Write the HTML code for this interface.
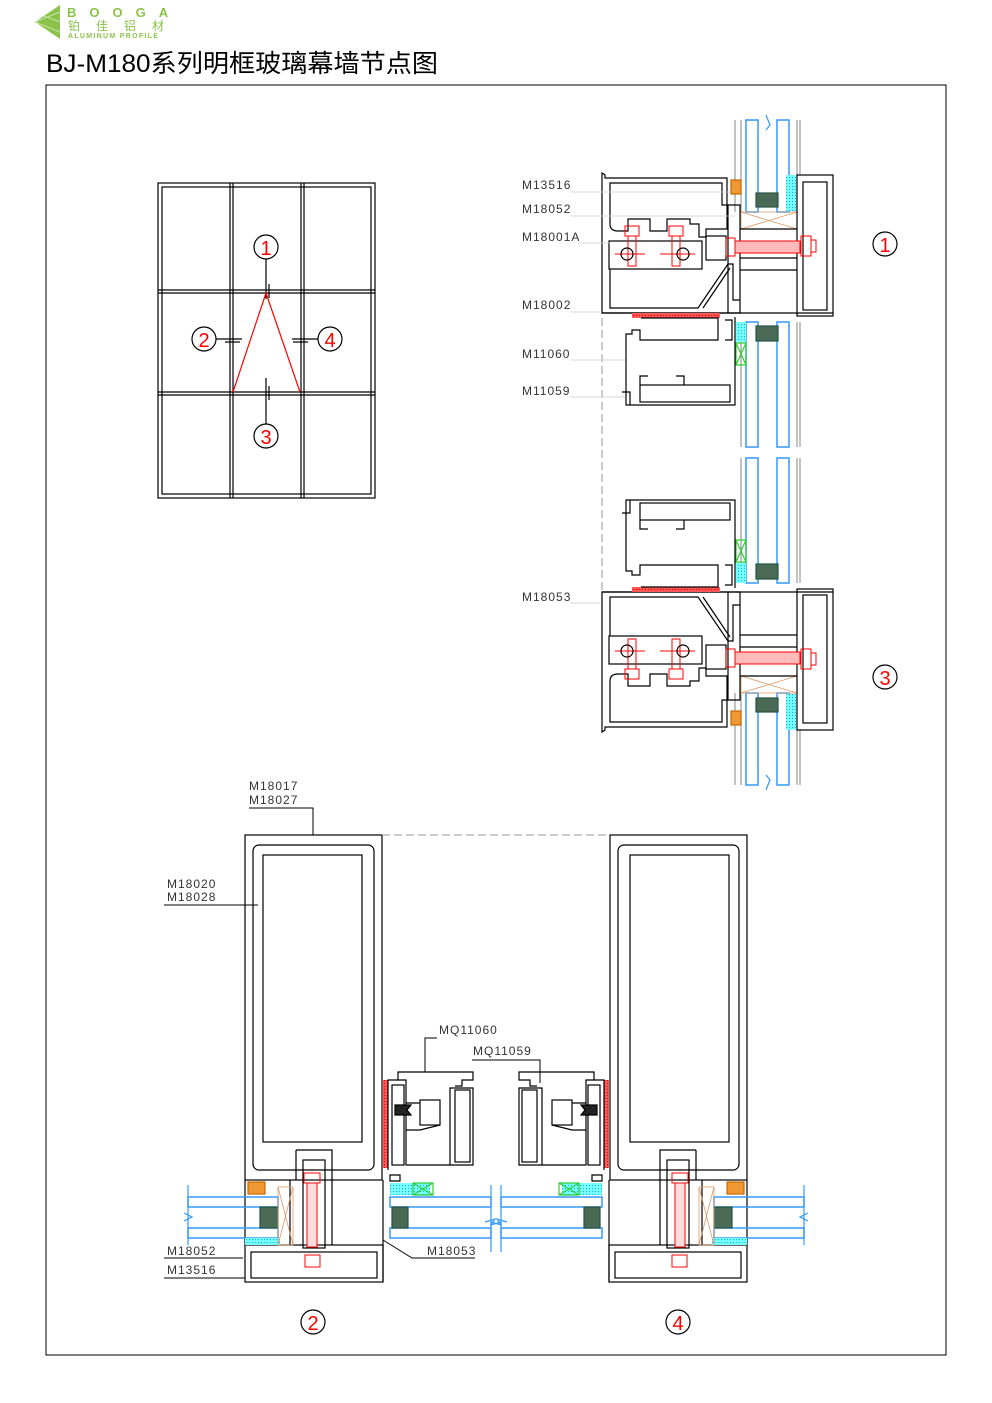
<!DOCTYPE html>
<html><head><meta charset="utf-8"><style>
html,body{margin:0;padding:0;background:#fff;width:992px;height:1403px;overflow:hidden}
svg{display:block}
text{font-family:"Liberation Sans","Noto Sans CJK SC",sans-serif}
.l{font-family:"Liberation Sans",sans-serif;font-size:12px;fill:#333;letter-spacing:1px}
</style></head><body>
<svg width="992" height="1403" viewBox="0 0 992 1403" xmlns="http://www.w3.org/2000/svg">
<defs>
<pattern id="cy" width="3" height="3" patternUnits="userSpaceOnUse"><rect width="3" height="3" fill="#7ff"/><rect width="1" height="1" fill="#0bd"/></pattern>
<pattern id="rd" width="3" height="3" patternUnits="userSpaceOnUse"><rect width="3" height="3" fill="#f55"/><rect width="1" height="1" fill="#c00"/></pattern>

<g id="sec1" fill="none" stroke="#000" stroke-width="1.2">
  <g stroke="#999"><line x1="735" y1="120" x2="735" y2="212"/><line x1="741" y1="120" x2="741" y2="212"/><line x1="797" y1="120" x2="797" y2="175"/><line x1="800" y1="120" x2="800" y2="175"/></g>
  <rect x="746" y="120" width="12" height="92" stroke="#39f" stroke-width="1.5"/>
  <rect x="777" y="120" width="12" height="92" stroke="#39f" stroke-width="1.5"/>
  <rect x="756" y="193" width="22" height="14" fill="#4a6a55" stroke="#254"/>
  <rect x="786" y="175" width="10" height="36" fill="url(#cy)" stroke="none"/>
  <path d="M741,212 L797,212 L797,229 L741,229 Z M741,212 L797,229 M797,212 L741,229" stroke="#d96" stroke-width="0.8"/>
  <path d="M766,115 L770,125 L766,130" stroke="#39f"/>
  <g stroke="#999"><line x1="741" y1="322" x2="741" y2="447"/><line x1="797" y1="322" x2="797" y2="447"/><line x1="800" y1="322" x2="800" y2="447"/></g>
  <rect x="746" y="322" width="12" height="125" stroke="#39f" stroke-width="1.5"/>
  <rect x="777" y="322" width="12" height="125" stroke="#39f" stroke-width="1.5"/>
  <rect x="756" y="326" width="22" height="15" fill="#4a6a55" stroke="#254"/>
  <rect x="736" y="322" width="10" height="20" fill="url(#cy)" stroke="none"/>
  <path d="M736,343 h10 v22 h-10 z M736,343 l10,22 M746,343 l-10,22" stroke="#3c3"/>
  <path d="M602,313 L602,173 L605,175 L605,178 L727,178 L727,205 L740,205 L740,313 Z"/>
  <path d="M610,183 L722,183 L722,205 L727,205 L727,229 L706,229 L706,237 L699,237 L699,224 L690,224 L690,219 L667,219 L667,231 L650,231 L650,219 L628,219 L628,231 L618,231 Q610,231 610,224 Z"/>
  <rect x="609" y="241" width="93" height="28"/>
  <rect x="706" y="236" width="20" height="24"/>
  <path d="M610,269 L610,308 L698,308 L728,264 L733,264 L733,300 L740,300"/>
  <path d="M703,308 L730,268"/>
  <line x1="728" y1="205" x2="728" y2="313"/>
  <line x1="740" y1="229" x2="797" y2="229"/>
  <line x1="740" y1="258" x2="797" y2="258"/>
  <line x1="740" y1="270" x2="797" y2="270"/>
  <line x1="602" y1="313" x2="833" y2="313"/>
  <rect x="797" y="175" width="36" height="141"/>
  <rect x="803" y="182" width="24" height="128"/>
  <g stroke="#f00" stroke-width="1">
    <rect x="726" y="238" width="9" height="18"/><rect x="735" y="241" width="65" height="12" fill="#fbb"/>
    <rect x="801" y="236" width="10" height="20"/><rect x="811" y="240" width="5" height="12"/>
    <rect x="625" y="226" width="14" height="10"/><rect x="628" y="236" width="8" height="30"/>
    <rect x="669" y="226" width="14" height="10"/><rect x="672" y="236" width="8" height="30"/>
    <line x1="615" y1="254" x2="645" y2="254"/><line x1="660" y1="254" x2="695" y2="254"/>
  </g>
  <circle cx="627" cy="254" r="6"/><circle cx="683" cy="254" r="6"/>
  <rect x="731" y="180" width="10" height="14" fill="#e93" stroke="#c60"/>
  <rect x="632" y="313" width="88" height="5" fill="url(#rd)" stroke="none"/>
  <path d="M641,318 L718,318 L718,340 L640,340 L640,330 L632,330 L632,334 L626,334 L626,405 L735,405 L735,317"/>
  <rect x="640" y="385" width="90" height="17"/>
  <path d="M640,385 L640,376 L648,376 M676,376 L684,376 L684,385 M622,392 L630,392 L630,405"/>
  <path d="M725,320 L732,320 L732,340 L725,340"/>
</g>

<g id="bot" fill="none" stroke="#000" stroke-width="1.2">
  <rect x="245" y="835" width="137" height="345"/>
  <rect x="253" y="845" width="121" height="325" rx="6"/>
  <rect x="263" y="855" width="99" height="287"/>
  <path d="M296,1150 h36 v30 M296,1150 v30"/>
  <rect x="303" y="1160" width="22" height="88"/>
  <line x1="332" y1="1180" x2="332" y2="1245"/>
  <line x1="290" y1="1180" x2="290" y2="1245"/>
  <rect x="245" y="1245" width="138" height="37"/>
  <rect x="251" y="1252" width="126" height="26"/>
  <line x1="245" y1="1180" x2="245" y2="1245"/>
  <line x1="383" y1="1180" x2="383" y2="1282"/>
  <g stroke="#f00" stroke-width="1"><rect x="304" y="1173" width="16" height="10"/><rect x="307" y="1183" width="10" height="64" fill="#fdd"/><rect x="305" y="1255" width="15" height="12"/></g>
  <rect x="188" y="1197" width="90" height="10" stroke="#39f" stroke-width="1.5"/>
  <rect x="188" y="1228" width="90" height="10" stroke="#39f" stroke-width="1.5"/>
  <rect x="260" y="1207" width="18" height="21" fill="#4a6a55" stroke="#254"/>
  <path d="M188,1185 v60 M184,1213 l8,4 l-8,4" stroke="#39f"/>
  <rect x="245" y="1238" width="35" height="7" fill="url(#cy)" stroke="none"/>
  <path d="M278,1187 h15 v58 h-15 z M278,1187 l15,58 M293,1187 l-15,58" stroke="#d96" stroke-width="0.8"/>
  <rect x="248" y="1182" width="17" height="12" fill="#e93" stroke="#c60"/>
  <rect x="383" y="1080" width="5" height="88" fill="url(#rd)" stroke="none"/>
  <path d="M388,1170 L388,1080 L398,1080 L398,1072 L473,1072 L473,1080 L462,1080 L462,1086 L455,1086"/>
  <path d="M398,1080 L406,1080 L406,1165 L473,1165 L473,1088 L450,1088 L450,1165"/>
  <rect x="392" y="1085" width="12" height="80"/>
  <rect x="455" y="1090" width="15" height="72"/>
  <rect x="420" y="1100" width="20" height="25"/>
  <path d="M406,1103 L420,1103 M406,1130 L420,1130 L440,1125"/>
  <path d="M395,1105 h16 l-4,5 l4,5 h-16 z" fill="#222"/>
  <path d="M390,1175 h10 v6 h-10 z"/>
  <rect x="390" y="1183" width="40" height="12" fill="url(#cy)" stroke="none"/>
  <path d="M413,1183 h20 v12 h-20 z M413,1183 l20,12 M433,1183 l-20,12" stroke="#3c3"/>
  <rect x="390" y="1197" width="101" height="10" stroke="#39f" stroke-width="1.5"/>
  <rect x="390" y="1228" width="101" height="10" stroke="#39f" stroke-width="1.5"/>
  <rect x="392" y="1207" width="16" height="21" fill="#4a6a55" stroke="#254"/>
  <line x1="491" y1="1185" x2="491" y2="1252" stroke="#39f"/>
  <path d="M485,1222 l10,-3 l-4,6 l10,-3" stroke="#39f"/>
</g>
</defs>

<path d="M35,22 L60,5 L60,39 Z" fill="#8bc34a"/>
<path d="M35,22 L60,12 M35,22 L60,32 M44,16 L60,22" stroke="#c5e1a5" stroke-width="1"/>
<text x="67" y="17" font-size="13" font-weight="bold" fill="#8bc34a" letter-spacing="13">BOOGA</text>
<text x="68" y="30" font-size="12" fill="#8bc34a" letter-spacing="16">铂佳铝材</text>
<text x="68" y="38" font-size="7" font-weight="bold" fill="#8bc34a" letter-spacing="1.3">ALUMINUM PROFILE</text>
<text x="46" y="72" font-size="25" fill="#000" textLength="392" lengthAdjust="spacingAndGlyphs">BJ-M180系列明框玻璃幕墙节点图</text>

<rect x="46" y="85" width="900" height="1270" fill="none" stroke="#000" stroke-width="1"/>

<g fill="none" stroke="#000" stroke-width="1.2">
<rect x="158" y="183" width="217" height="315"/>
<rect x="162" y="187" width="209" height="307"/>
<line x1="230" y1="183" x2="230" y2="498"/><line x1="233" y1="183" x2="233" y2="498"/>
<line x1="301" y1="183" x2="301" y2="498"/><line x1="304" y1="183" x2="304" y2="498"/>
<line x1="158" y1="290" x2="375" y2="290"/><line x1="158" y1="293" x2="375" y2="293"/>
<line x1="158" y1="392" x2="375" y2="392"/><line x1="158" y1="395" x2="375" y2="395"/>
<line x1="266" y1="259" x2="266" y2="299"/><line x1="269" y1="284" x2="269" y2="298"/>
<line x1="266" y1="378" x2="266" y2="424"/><line x1="269" y1="386" x2="269" y2="400"/>
<line x1="216" y1="339" x2="242" y2="339"/><line x1="225" y1="342" x2="240" y2="342"/>
<line x1="318" y1="339" x2="292" y2="339"/><line x1="293" y1="342" x2="308" y2="342"/>
<circle cx="266" cy="247" r="12"/><circle cx="204" cy="339" r="12"/><circle cx="330" cy="339" r="12"/><circle cx="266" cy="436" r="12"/>
</g>
<path d="M233,392 L266,293 L300,392" fill="none" stroke="#f00" stroke-width="1.2"/>
<g font-size="20" fill="#f00" text-anchor="middle">
<text x="266" y="255">1</text><text x="204" y="347">2</text><text x="330" y="347">4</text><text x="266" y="444">3</text>
</g>

<use href="#sec1"/>
<use href="#sec1" transform="matrix(1,0,0,-1,0,905)"/>
<line x1="602" y1="318" x2="602" y2="590" stroke="#999" stroke-dasharray="8,4"/>
<g stroke="#ccc" stroke-width="0.8">
<line x1="570" y1="192" x2="730" y2="192"/><line x1="570" y1="216" x2="735" y2="216"/><line x1="578" y1="243" x2="610" y2="243"/>
<line x1="570" y1="312" x2="600" y2="312"/><line x1="570" y1="360" x2="625" y2="360"/><line x1="570" y1="397" x2="625" y2="397"/><line x1="570" y1="603" x2="600" y2="603"/>
</g>
<text x="522" y="189" class="l">M13516</text><text x="522" y="213" class="l">M18052</text><text x="522" y="241" class="l">M18001A</text>
<text x="522" y="309" class="l">M18002</text><text x="522" y="358" class="l">M11060</text><text x="522" y="395" class="l">M11059</text>
<text x="522" y="601" class="l">M18053</text>
<circle cx="885" cy="244" r="12" fill="none" stroke="#000" stroke-width="1.2"/>
<circle cx="885" cy="677" r="12" fill="none" stroke="#000" stroke-width="1.2"/>
<text x="885" y="252" font-size="20" fill="#f00" text-anchor="middle">1</text>
<text x="885" y="685" font-size="20" fill="#f00" text-anchor="middle">3</text>

<use href="#bot"/>
<use href="#bot" transform="matrix(-1,0,0,1,992,0)"/>
<line x1="382" y1="835" x2="610" y2="835" stroke="#999" stroke-dasharray="8,4"/>
<g fill="none" stroke="#000" stroke-width="1">
<path d="M249,808 L313,808 L313,835"/>
<line x1="164" y1="905" x2="258" y2="905"/>
<path d="M437,1038 L425,1038 L425,1072"/>
<path d="M472,1060 L540,1060 L540,1083"/>
<path d="M164,1258 L243,1258"/><path d="M164,1278 L245,1278"/>
<path d="M383,1240 L412,1258 L475,1258"/>
</g>
<text x="249" y="790" class="l">M18017</text><text x="249" y="804" class="l">M18027</text>
<text x="167" y="888" class="l">M18020</text><text x="167" y="901" class="l">M18028</text>
<text x="439" y="1034" class="l">MQ11060</text><text x="473" y="1055" class="l">MQ11059</text>
<text x="167" y="1255" class="l">M18052</text><text x="167" y="1274" class="l">M13516</text>
<text x="427" y="1255" class="l">M18053</text>
<circle cx="313" cy="1322" r="12" fill="none" stroke="#000" stroke-width="1.2"/>
<circle cx="678" cy="1322" r="12" fill="none" stroke="#000" stroke-width="1.2"/>
<text x="313" y="1330" font-size="20" fill="#f00" text-anchor="middle">2</text>
<text x="678" y="1330" font-size="20" fill="#f00" text-anchor="middle">4</text>
</svg>
</body></html>
